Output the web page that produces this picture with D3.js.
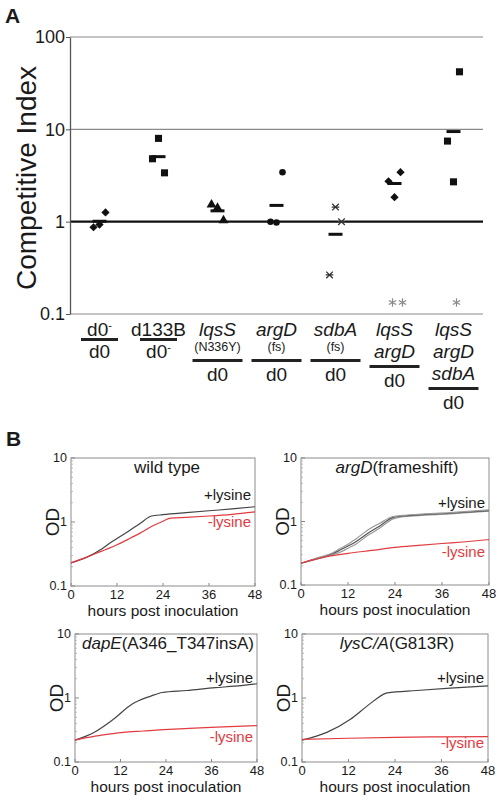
<!DOCTYPE html>
<html><head><meta charset="utf-8">
<script src="https://cdn.jsdelivr.net/npm/d3@7"></script>
<style>body{margin:0;background:#fff} svg{display:block}</style>
</head><body>
<svg id="c" width="498" height="800"></svg>
<script>
// ================= DATA =================
// Panel A : competitive index
const categories = ["d0-/d0", "d133B/d0-", "lqsS(N336Y)/d0", "argD(fs)/d0", "sdbA(fs)/d0", "lqsS argD/d0", "lqsS argD sdbA/d0"];
const markerShapes = ["diamond", "square", "triangle", "circle", "star", "diamond", "square"];
const ciValues = [
  [0.87, 0.93, 1.26],
  [4.8, 7.98, 3.38],
  [1.53, 1.41, 1.03],
  [1.0, 0.98, 3.43],
  [0.265, 1.44, 1.0],
  [2.74, 1.84, 3.43],
  [7.46, 2.7, 42]
];
const ciMeans = [1.01, 5.06, 1.31, 1.5, 0.73, 2.59, 9.46];
const significance = ["", "", "", "", "", "**", "*"];
const ciTicks = [0.1, 1, 10, 100];
const ciTickLabels = ["0.1", "1", "10", "100"];
const numerators = [["d0⁻"], ["d133B"], ["lqsS", "(N336Y)"], ["argD", "(fs)"], ["sdbA", "(fs)"], ["lqsS", "argD"], ["lqsS", "argD", "sdbA"]];
const denominators = ["d0", "d0⁻", "d0", "d0", "d0", "d0", "d0"];
const geneNames = ["lqsS", "argD", "sdbA"];

// Panel B : growth curves  [hours, OD]
const hourTicks = [0, 12, 24, 36, 48];
const odTicks = [0.1, 1, 10];
const odTickLabels = ["0.1", "1", "10"];
const titleGene = ["", "argD", "dapE", "lysC/A"];
const titleAllele = ["wild type", "(frameshift)", "(A346_T347insA)", "(G813R)"];

const wtPlus = [[0,0.23],[4,0.28],[8,0.38],[10,0.46],[12,0.55],[15,0.72],[18,0.95],[21,1.24],[24,1.3],[30,1.4],[36,1.5],[42,1.6],[48,1.73]];
const wtMinus = [[0,0.23],[4,0.28],[8,0.35],[10,0.39],[12,0.44],[15,0.54],[18,0.67],[21,0.85],[24,1.03],[26,1.15],[30,1.18],[36,1.24],[42,1.32],[48,1.44]];
const argDPlusA = [[0,0.22],[4,0.255],[8,0.3],[10,0.33],[12,0.38],[14,0.44],[17,0.6],[20,0.78],[23.5,1.1],[26,1.19],[30,1.24],[38,1.32],[48,1.45]];
const argDPlusB = [[0,0.22],[4,0.26],[8,0.31],[10,0.355],[12,0.41],[14,0.48],[17,0.65],[20,0.84],[23.5,1.16],[26,1.22],[30,1.27],[38,1.35],[48,1.48]];
const argDPlusC = [[0,0.22],[4,0.265],[8,0.32],[10,0.375],[12,0.44],[14,0.53],[17,0.73],[20,0.93],[23.5,1.2],[26,1.25],[30,1.3],[38,1.38],[48,1.52]];
const argDMinus = [[0,0.22],[2,0.24],[4,0.257],[8,0.29],[12,0.315],[18,0.35],[24,0.39],[30,0.42],[36,0.45],[42,0.48],[48,0.52]];
const dapEPlus = [[0,0.22],[5,0.29],[10,0.46],[15,0.8],[20,1.07],[23,1.22],[29.5,1.31],[37,1.45],[42,1.53],[48,1.67]];
const dapEMinus = [[0,0.22],[3,0.24],[6.6,0.26],[12.7,0.29],[18,0.305],[23.3,0.32],[30,0.335],[37.4,0.35],[48,0.37]];
const lysCPlus = [[0,0.22],[6.4,0.29],[12.4,0.46],[16.7,0.74],[19,0.95],[22,1.2],[29.6,1.31],[38.2,1.43],[48,1.55]];
const lysCMinus = [[0,0.225],[12,0.235],[24,0.243],[36,0.247],[48,0.25]];

const plusCurves = [[wtPlus], [argDPlusA, argDPlusB, argDPlusC], [dapEPlus], [lysCPlus]];
const minusCurves = [wtMinus, argDMinus, dapEMinus, lysCMinus];

// ================= DRAW =================
const FONT = "'Liberation Sans', Arial, Helvetica, sans-serif";
const TXT = "#1a1a1a", RED = "#e23b3f";
const svg = d3.select("#c").attr("font-family", FONT);

// ---------- Panel A ----------
const A = {left: 70, right: 483, top: 37, bottom: 314};
const x = d3.scaleBand().domain(categories).range([A.left, A.right]);
const y = d3.scaleLog().domain([0.1, 100]).range([A.bottom, A.top]);
const jitter = d3.scalePoint().domain([0, 1, 2]).range([-6, 6]);

svg.append("text").attr("x", 5).attr("y", 23).attr("font-size", 21).attr("font-weight", "bold").attr("fill", TXT).text("A");

const gA = svg.append("g");
ciTicks.forEach(v => {
  gA.append("line").attr("x1", A.left).attr("x2", A.right).attr("y1", y(v)).attr("y2", y(v))
    .attr("stroke", v === 1 ? "#111" : "#8a8a8a").attr("stroke-width", v === 1 ? 2.2 : 1.1);
});
const yAxis = d3.axisLeft(y).tickValues(ciTicks).tickFormat((d, i) => ciTickLabels[i]).tickSize(4).tickSizeOuter(0);
const gy = gA.append("g").attr("transform", `translate(${A.left},0)`).call(yAxis);
gy.select(".domain").attr("stroke", "#555").attr("stroke-width", 1.3);
gy.selectAll(".tick line").attr("stroke", "#555");
gy.selectAll(".tick text").attr("font-size", 18).attr("font-family", FONT).attr("fill", TXT).attr("x", -5);

svg.append("text").attr("transform", "translate(36,178) rotate(-90)").attr("text-anchor", "middle")
  .attr("font-size", 28).attr("fill", TXT).text("Competitive Index");

function markerPath(shape) {
  if (shape === "square") return d3.symbol(d3.symbolSquare, 50)();
  if (shape === "diamond") return d3.symbol(d3.symbolSquare, 34)();
  if (shape === "triangle") return d3.symbol(d3.symbolTriangle, 42)();
  if (shape === "circle") return d3.symbol(d3.symbolCircle, 34)();
  return "M-3.3,-3.3L3.3,3.3M-3.3,3.3L3.3,-3.3M-3.8,0L3.8,0";
}
categories.forEach((c, gi) => {
  const cx = x(c) + x.bandwidth() / 2;
  const shape = markerShapes[gi];
  ciValues[gi].forEach((v, k) => {
    const p = gA.append("path").attr("d", markerPath(shape))
      .attr("transform", `translate(${cx + jitter(k)},${y(v)})` + (shape === "diamond" ? " rotate(45)" : ""));
    if (shape === "star") p.attr("fill", "none").attr("stroke", "#333").attr("stroke-width", 1.3);
    else p.attr("fill", "#111");
  });
  gA.append("line").attr("x1", cx - 7).attr("x2", cx + 7).attr("y1", y(ciMeans[gi])).attr("y2", y(ciMeans[gi]))
    .attr("stroke", "#111").attr("stroke-width", 3);
  const n = significance[gi].length;
  for (let s = 0; s < n; s++) {
    const sx = cx + 3 + (s - (n - 1) / 2) * 10;
    const sy = 302.5;
    [90, 30, -30].forEach(a => {
      const r = 4.2, rad = a * Math.PI / 180;
      gA.append("line").attr("x1", sx - r * Math.cos(rad)).attr("x2", sx + r * Math.cos(rad))
        .attr("y1", sy - r * Math.sin(rad)).attr("y2", sy + r * Math.sin(rad))
        .attr("stroke", "#8a8a8a").attr("stroke-width", 1.2);
    });
  }
});

function addLabel(str, cx, by, small) {
  const italic = geneNames.includes(str);
  const t = svg.append("text").attr("x", cx).attr("y", by).attr("text-anchor", "middle")
    .attr("font-size", small ? 12.5 : 19).attr("fill", TXT).attr("font-style", italic ? "italic" : "normal");
  if (str.endsWith("⁻")) {
    t.append("tspan").text(str.slice(0, -1));
    t.append("tspan").attr("dy", -7).attr("font-size", 11).text("-");
  } else t.text(str);
}
categories.forEach((c, gi) => {
  const cx = x(c) + x.bandwidth() / 2;
  const lines = numerators[gi];
  let by = 336;
  lines.forEach((s, li) => {
    const small = s.startsWith("(");
    if (li > 0) by += small ? 15 : 22;
    addLabel(s, cx, by, small);
  });
  const single = lines.length === 1;
  const ly = by + (single ? 3.5 : (lines[lines.length - 1].startsWith("(") ? 9.5 : 8.5));
  const half = single ? 18.5 : 25;
  svg.append("line").attr("x1", cx - half).attr("x2", cx + half).attr("y1", ly).attr("y2", ly)
    .attr("stroke", "#222").attr("stroke-width", 3);
  addLabel(denominators[gi], cx, ly + (single ? 18 : 20), false);
});

// ---------- Panel B ----------
svg.append("text").attr("x", 6).attr("y", 446).attr("font-size", 21).attr("font-weight", "bold").attr("fill", TXT).text("B");

const frames = [
  {x0: 71, x1: 255, y0: 458, y1: 586, plusDy: 42, minusDy: 69},
  {x0: 301, x1: 489, y0: 458, y1: 585, plusDy: 50, minusDy: 99},
  {x0: 75, x1: 257, y0: 634, y1: 762, plusDy: 49, minusDy: 108},
  {x0: 302, x1: 488, y0: 634, y1: 762, plusDy: 49, minusDy: 114}
];

frames.forEach((f, pi) => {
  const g = svg.append("g");
  const xs = d3.scaleLinear().domain([0, 48]).range([f.x0, f.x1]);
  const ys = d3.scaleLog().domain([0.1, 10]).range([f.y1, f.y0]);

  g.append("rect").attr("x", f.x0).attr("y", f.y0).attr("width", f.x1 - f.x0).attr("height", f.y1 - f.y0)
    .attr("fill", "none").attr("stroke", "#8c8c8c").attr("stroke-width", 1);
  const minor = [];
  [0.1, 1].forEach(d => { for (let m = 2; m <= 9; m++) minor.push(d * m); });
  minor.forEach(v => g.append("line").attr("x1", f.x0).attr("x2", f.x0 + 2).attr("y1", ys(v)).attr("y2", ys(v)).attr("stroke", "#aaa").attr("stroke-width", 0.8));
  odTicks.forEach(v => g.append("line").attr("x1", f.x0).attr("x2", f.x0 + 4).attr("y1", ys(v)).attr("y2", ys(v)).attr("stroke", "#888"));
  hourTicks.forEach(h => g.append("line").attr("x1", xs(h)).attr("x2", xs(h)).attr("y1", f.y1).attr("y2", f.y1 - 3).attr("stroke", "#888"));

  odTicks.forEach((v, i) => g.append("text").attr("x", f.x0 - 4).attr("y", ys(v)).attr("dy", "0.35em")
    .attr("text-anchor", "end").attr("font-size", 12.5).attr("fill", TXT).text(odTickLabels[i]));
  hourTicks.forEach(h => g.append("text").attr("x", xs(h)).attr("y", f.y1 + 12.5)
    .attr("text-anchor", "middle").attr("font-size", 13).attr("fill", TXT).text(h));

  g.append("text").attr("x", (f.x0 + f.x1) / 2).attr("y", f.y1 + 30).attr("text-anchor", "middle")
    .attr("font-size", 15.5).attr("fill", TXT).text("hours post inoculation");
  g.append("text").attr("transform", `translate(${f.x0 - 12},${(f.y0 + f.y1) / 2}) rotate(-90)`).attr("text-anchor", "middle")
    .attr("font-size", 19).attr("fill", TXT).text("OD");

  const tt = g.append("text").attr("x", (f.x0 + f.x1) / 2 + (pi === 0 ? 4 : 2)).attr("y", f.y0 + 15)
    .attr("text-anchor", "middle").attr("font-size", 17).attr("fill", TXT);
  if (titleGene[pi]) tt.append("tspan").attr("font-style", "italic").text(titleGene[pi]);
  tt.append("tspan").text(titleAllele[pi]);

  const line = d3.line().x(d => xs(d[0])).y(d => ys(d[1])).curve(d3.curveMonotoneX);
  const reps = plusCurves[pi];
  reps.forEach((c, ri) => g.append("path").attr("d", line(c)).attr("fill", "none")
    .attr("stroke", reps.length > 1 ? (ri === 1 ? "#555" : "#999") : "#444").attr("stroke-width", 1.2));
  g.append("path").attr("d", line(minusCurves[pi])).attr("fill", "none").attr("stroke", RED).attr("stroke-width", 1.2);

  g.append("text").attr("x", f.x1 - 4).attr("y", f.y0 + f.plusDy).attr("text-anchor", "end")
    .attr("font-size", 15).attr("fill", TXT).text("+lysine");
  g.append("text").attr("x", f.x1 - 4).attr("y", f.y0 + f.minusDy).attr("text-anchor", "end")
    .attr("font-size", 15).attr("fill", RED).text("-lysine");
});
</script>
</body></html>
